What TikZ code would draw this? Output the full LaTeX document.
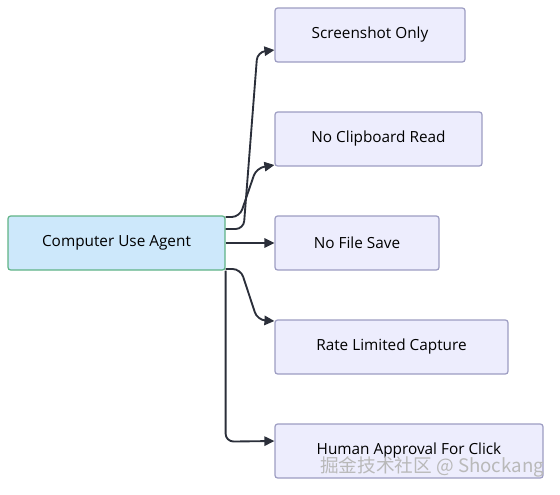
\documentclass[tikz,border=0pt]{standalone}
\usepackage{fontspec}
\setmainfont{Open Sans}
\newfontfamily\cjk{Noto Sans CJK SC}
\usepackage{tikz}
\usetikzlibrary{arrows.meta,positioning,calc}

\definecolor{agentfill}{HTML}{CDE8FB}
\definecolor{agentline}{HTML}{5FB386}
\definecolor{rulefill}{HTML}{EDEDFD}
\definecolor{ruleline}{HTML}{9C9CC2}
\definecolor{edgecol}{HTML}{2B2F3A}

\tikzset{
  agentbox/.style={draw=agentline,fill=agentfill,line width=0.9pt,rounded corners=2pt,
    minimum height=40.5pt,inner sep=0pt,font=\fontsize{11.5}{13}\selectfont},
  rulebox/.style={draw=ruleline,fill=rulefill,line width=0.9pt,rounded corners=2pt,
    minimum height=40.5pt,inner sep=0pt,font=\fontsize{11.5}{13}\selectfont},
  edge/.style={draw=edgecol,line width=1.4pt,rounded corners=6pt,
    -{Triangle[length=7.5pt,width=7pt]}}
}

\begin{document}
\begin{tikzpicture}[x=0.75pt,y=-0.75pt]
\useasboundingbox (0,0) rectangle (560,494);
% the agent
\node[agentbox,minimum width=162.75pt] (agent) at (116.5,243) {Computer Use Agent};
% the rules
\node[rulebox,minimum width=142.5pt] (shot) at (370,35) {Screenshot Only};
\node[rulebox,minimum width=155.25pt] (clip) at (378.5,139) {No Clipboard Read};
\node[rulebox,minimum width=123pt] (save) at (357,243) {No File Save};
\node[rulebox,minimum width=174.75pt] (rate) at (391.5,347) {Rate Limited Capture};
\node[rulebox,minimum width=201pt] (human) at (409,451) {Human Approval For Click};
% edges
\draw[edge] ($(agent.east)+(0,-14)$) -- ++(18,0) -- ($(shot.west)+(-17,17)$) -- ($(shot.west)+(0,15)$);
\draw[edge] ($(agent.east)+(0,-26)$) -- ++(14,0) -- ($(clip.west)+(-18,29)$) -- ($(clip.west)+(0,26)$);
\draw[edge] (agent.east) -- (save.west);
\draw[edge] ($(agent.east)+(0,26)$) -- ++(15,0) -- ($(rate.west)+(-17,-27)$) -- ($(rate.west)+(0,-26)$);
\draw[edge] (agent.south east) -- ($(agent.south east)+(0,171)$) -- ($(human.west)+(0,-10)$);
% watermark
\node[text=gray!55,font=\cjk\fontsize{14}{16}\selectfont] (mark) at (432,467) {掘金技术社区 @ Shockang};
\end{tikzpicture}
\end{document}
